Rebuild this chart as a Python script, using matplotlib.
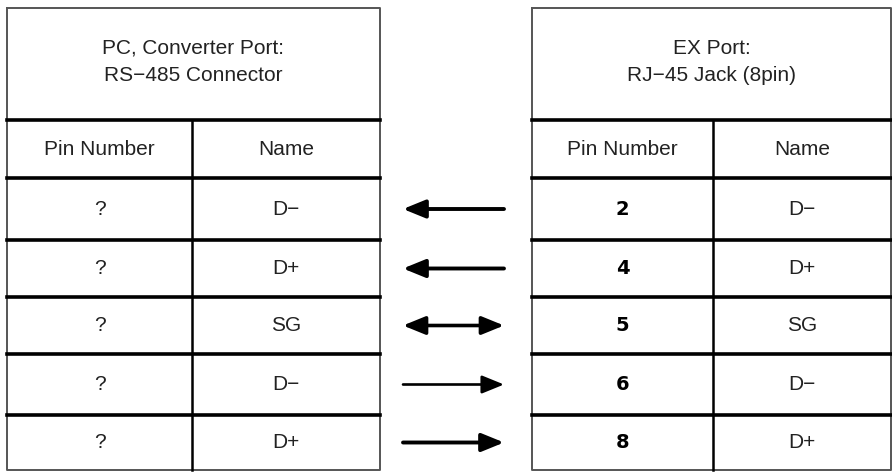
import matplotlib.pyplot as plt

# table contents
left_title = "PC, Converter Port:\nRS\u2212485 Connector"
right_title = "EX Port:\nRJ\u221245 Jack (8pin)"
col_heads = ["Pin Number", "Name"]
left_pins = ["?", "?", "?", "?", "?"]
left_names = ["D\u2212", "D+", "SG", "D\u2212", "D+"]
right_pins = ["2", "4", "5", "6", "8"]
right_names = ["D\u2212", "D+", "SG", "D\u2212", "D+"]
directions = ["left", "left", "both", "right", "right"]
arrow_widths = [2.8, 2.8, 2.6, 1.9, 2.8]

W, H = 892, 473
fig = plt.figure(figsize=(W / 100, H / 100), dpi=100)
ax = fig.add_axes([0, 0, 1, 1])
ax.set_xlim(0, W)
ax.set_ylim(H, 0)
ax.axis("off")

plt.rcParams['font.family'] = ['Liberation Sans', 'DejaVu Sans']

top, head_bot, sub_bot, bottom = 8, 120, 178, 470
row_lines = [178, 240, 297, 354, 415, 470]
fs = 15


def draw_table(x0, xmid, x1, title, pins, names, bold_pins):
    # outer frame
    ax.plot([x0, x1, x1, x0, x0], [top, top, bottom, bottom, top], color="#555555", lw=1.4)
    # horizontal rules
    for y in [head_bot] + row_lines[:-1]:
        ax.plot([x0, x1], [y, y], color="black", lw=2.6)
    ax.plot([xmid, xmid], [head_bot, bottom], color="black", lw=1.8)
    ax.text((x0 + x1) / 2, (top + head_bot) / 2 - 2, title, ha="center", va="center",
            fontsize=fs, linespacing=1.55, color="#222222")
    ax.text((x0 + xmid) / 2, (head_bot + sub_bot) / 2, col_heads[0], ha="center",
            va="center", fontsize=fs, color="#222222")
    ax.text((xmid + x1) / 2, (head_bot + sub_bot) / 2, col_heads[1], ha="center",
            va="center", fontsize=fs, color="#222222")
    for i in range(len(pins)):
        yc = (row_lines[i] + row_lines[i + 1]) / 2
        if bold_pins:
            ax.text((x0 + xmid) / 2, yc, pins[i], ha="center", va="center",
                    fontsize=14, fontweight="bold", color="black",
                    family=["Liberation Sans Narrow", "DejaVu Sans"])
        else:
            ax.text((x0 + xmid) / 2, yc, pins[i], ha="center", va="center",
                    fontsize=fs, color="#222222")
        ax.text((xmid + x1) / 2, yc, names[i], ha="center", va="center",
                fontsize=fs, color="#222222")


draw_table(7, 192, 380, left_title, left_pins, left_names, False)
draw_table(532, 713, 891, right_title, right_pins, right_names, True)

# arrows between the tables
ax_l, ax_r = 403, 504
for i, d in enumerate(directions):
    yc = (row_lines[i] + row_lines[i + 1]) / 2
    style = {"left": "<|-", "right": "-|>", "both": "<|-|>"}[d]
    ax.annotate("", xy=(ax_r, yc), xytext=(ax_l, yc),
                arrowprops=dict(arrowstyle=style + ",head_length=1.35,head_width=0.55",
                                color="black", lw=arrow_widths[i],
                                shrinkA=0, shrinkB=0))

fig.savefig("out.png", dpi=100)
